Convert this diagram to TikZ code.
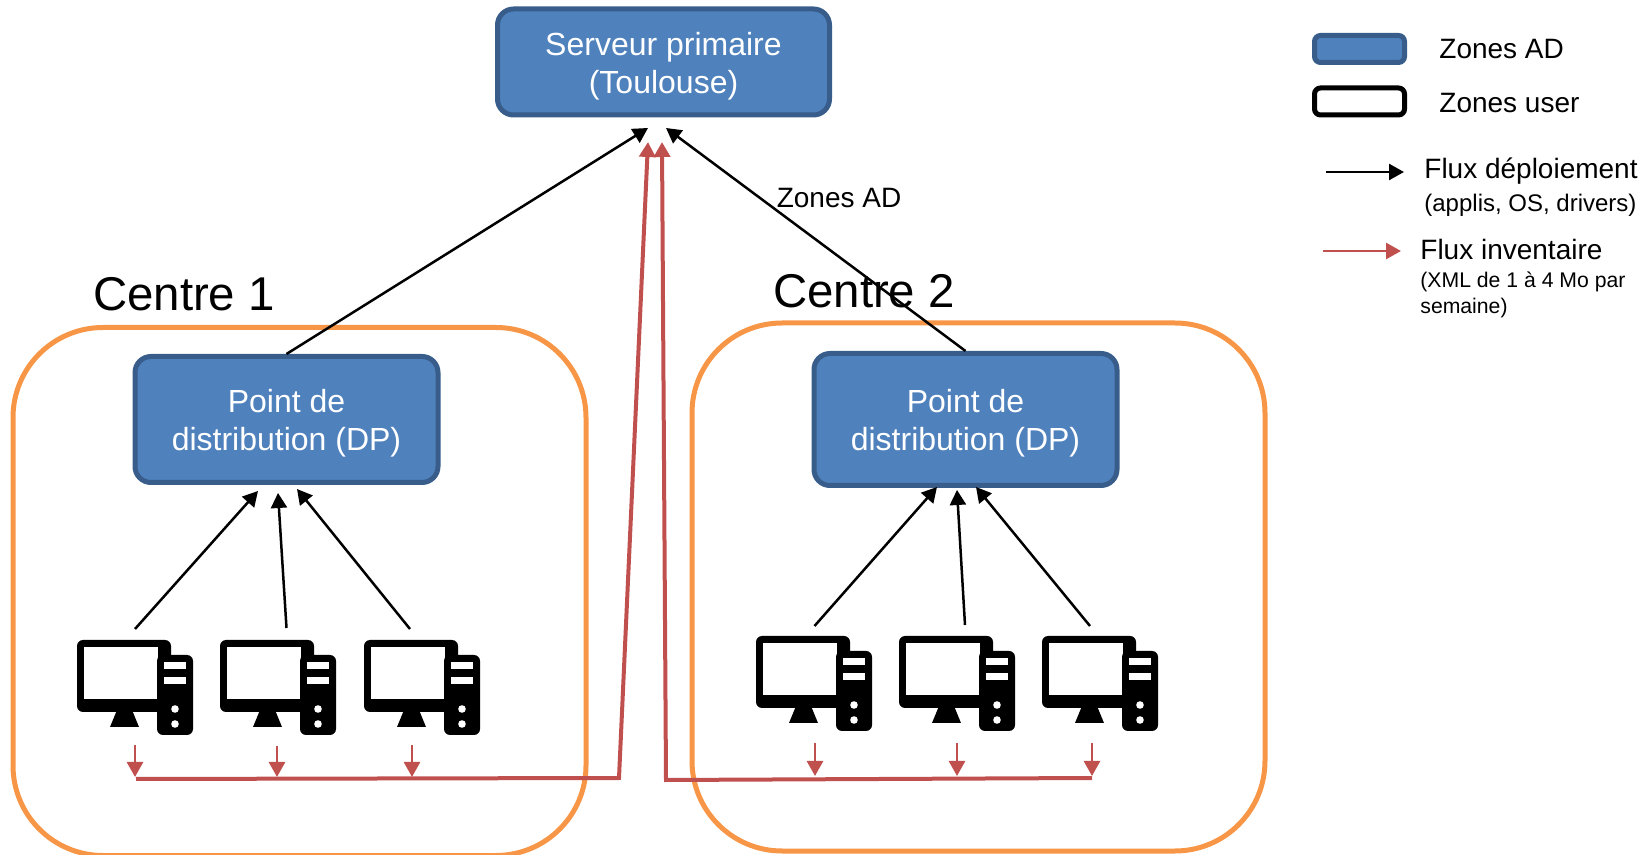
\documentclass[tikz,border=0pt]{standalone}
\usepackage{fontspec}
\setmainfont{Liberation Sans}
\usetikzlibrary{arrows.meta}
\definecolor{bleuAD}{HTML}{4F81BD}
\definecolor{bordAD}{HTML}{385D8A}
\definecolor{orangeC}{HTML}{F79646}
\definecolor{rougeF}{HTML}{C0504D}
\tikzset{
  Zone/.style={draw=bordAD,fill=bleuAD,text=white,line width=2.5pt,rounded corners=8pt,align=center,
    font={\fontsize{16}{19}\selectfont},text height=34.8pt,text depth=3.4pt}, % pour serveur et DP
  Centre/.style={draw=orangeC,line width=2.5pt,rounded corners=45pt,minimum width=286.5pt,minimum height=264pt},
  Legende/.style={line width=2.5pt,rounded corners=3pt,minimum width=45pt,minimum height=13.5pt},
  Texte/.style={anchor=west,inner sep=0pt,align=left,font={\fontsize{14}{17}\selectfont}},
  Fleche/.style={line width=1.25pt,->},
  DFleche/.style={black,Fleche}, % flux de deploiement
  IFleche/.style={rougeF,Fleche,line width=2pt}, % flux d'inventaire
  PFleche/.style={rougeF,Fleche,line width=1.35pt},
  poste/.pic={
    \fill[rounded corners=3pt] (0,0) rectangle (94,72);
    \fill (33,87) -- (40,70) -- (55,70) -- (62,87) -- cycle;
    \fill[white] (7,7) rectangle (81,59);
    \fill[rounded corners=3pt] (80,15) rectangle (116,95);
    \fill[white] (87,22) rectangle (109,29);
    \fill[white] (87,37) rectangle (109,44);
    \fill[white] (98,69) circle (1.9pt);
    \fill[white] (98,84) circle (1.9pt);
  }
}

\begin{document}
\begin{tikzpicture}[
x=.5pt, y=-.5pt,
>={Triangle[length=7.5pt,width=8pt]} % pointes de fleches
]
\useasboundingbox (0,0) rectangle (1646,855);

%Centres
\node[Centre] (C1) at (299.5,591.5) {};
\node[Centre] (C2) at (978.5,587) {};
\node[inner sep=0pt,font={\fontsize{23.7}{28}\selectfont}] (T1) at (184,294) {Centre 1};
\node[inner sep=0pt,font={\fontsize{23.7}{28}\selectfont}] (T2) at (864,291) {Centre 2};

%Serveur et points de distribution
\node[Zone,minimum width=166pt,minimum height=53pt] (Srv) at (663.5,62) {Serveur primaire\\(Toulouse)};
\node[Zone,minimum width=151.5pt,minimum height=63pt] (DP1) at (286.5,419.5) {Point de\\distribution (DP)};
\node[Zone,minimum width=151.5pt,minimum height=66pt] (DP2) at (965.5,419.5) {Point de\\distribution (DP)};

%Postes
\pic (P1) at (77,640) {poste};
\pic (P2) at (220,640) {poste};
\pic (P3) at (364,640) {poste};
\pic (P4) at (756,636) {poste};
\pic (P5) at (899,636) {poste};
\pic (P6) at (1042,636) {poste};

%Points d'accroche
\foreach \n/\x/\y in {1/135/629,2/286.5/628,3/410/629,4/814.5/626,5/965/625,6/1090/626}
  \coordinate (A\n) at (\x,\y);
\foreach \n/\x/\y in {1/258/491,2/278/493,3/297/489,4/937/487,5/957/490,6/976/487}
  \coordinate (B\n) at (\x,\y);
\foreach \n/\x/\y in {1/135/745,2/277/746,3/412/745,4/815/743,5/957/743,6/1092/743}
  \coordinate (R\n) at (\x,\y);
\foreach \n/\x/\y in {1/135/777,2/277/777,3/412/777,4/815/776,5/957/776,6/1092/776}
  \coordinate (Q\n) at (\x,\y);
\coordinate (SG) at (648,128);
\coordinate (SD) at (666,128);
\coordinate (TG) at (648,142);
\coordinate (TD) at (662,142);
\coordinate (L1) at (136,779);
\coordinate (L2) at (619,778);
\coordinate (L3) at (666,780);
\coordinate (L4) at (1092,778);

%Flux deploiement
\draw[DFleche] (DP1.north) -- (SG);
\draw[DFleche] (DP2.north) -- (SD);
\foreach \n in {1,...,6}
  \draw[DFleche] (A\n) -- (B\n);

%Flux inventaire
\foreach \n in {1,...,6}
  \draw[PFleche] (R\n) -- (Q\n);
\draw[IFleche] (L1) -- (L2) -- (TG);
\draw[IFleche] (L4) -- (L3) -- (TD);

\node[inner sep=0pt,font={\fontsize{14}{17}\selectfont}] (ZAD) at (839,198) {Zones AD};

%Legende
\node[Legende,draw=bordAD,fill=bleuAD] (LA) at (1359.5,49) {};
\node[Legende,draw=black] (LU) at (1359.5,101.5) {};
\node[Texte] (TA) at (1439,49) {Zones AD};
\node[Texte] (TU) at (1439,103) {Zones user};
\coordinate (F1) at (1326,172);
\coordinate (F2) at (1404,172);
\coordinate (F3) at (1323,251);
\coordinate (F4) at (1401,251);
\draw[DFleche] (F1) -- (F2);
\draw[PFleche] (F3) -- (F4);
\node[Texte] (TF) at (1424,171) {Flux déploiement};
\node[Texte,font={\fontsize{12}{14}\selectfont}] (TO) at (1424,205) {(applis, OS, drivers)};
\node[Texte] (TI) at (1420,249) {Flux inventaire};
\node[Texte,font={\fontsize{10.6}{13}\selectfont}] (TX) at (1420,294.5) {(XML de 1 à 4 Mo par\\semaine)};
\end{tikzpicture}
\end{document}
